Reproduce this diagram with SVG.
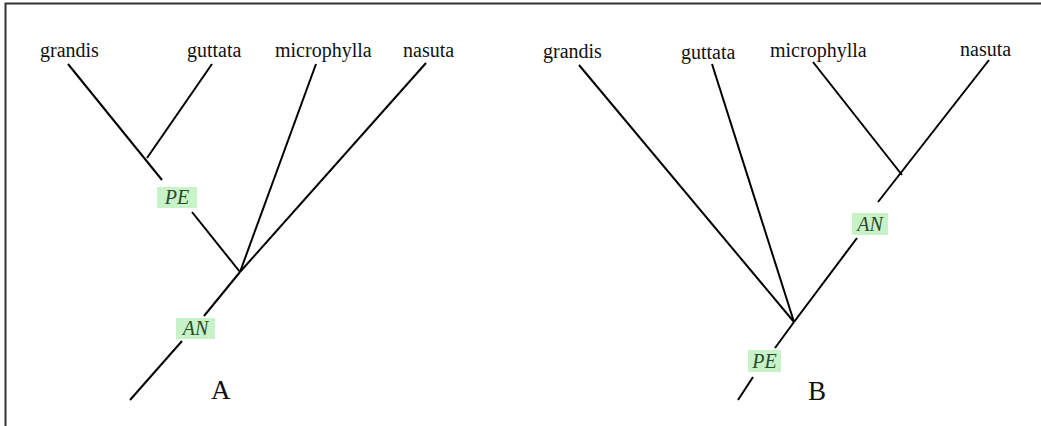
<svg xmlns="http://www.w3.org/2000/svg" width="1041" height="426" viewBox="0 0 1041 426">
<style>
.bg{fill:#ffffff}
.frame{stroke:#333;stroke-width:2;fill:none}
.edge{stroke:#000;stroke-width:2;fill:none;stroke-linecap:butt}
.taxon{font-family:"Liberation Serif",serif;font-size:20px;fill:#111}
.panel{font-family:"Liberation Serif",serif;font-size:27px;fill:#111}
.tagbox{fill:#c8f2c8}
.tag{font-family:"Liberation Serif",serif;font-style:italic;font-size:20px;fill:#2b4a2b;text-anchor:middle}
</style>
<rect class="bg" x="0" y="0" width="1041" height="426"/>
<path class="frame" d="M5.5,426 V3.5 H1041"/>
<g id="connectors">
  <!-- Tree A -->
  <line class="edge" x1="68" y1="64" x2="162" y2="180"/>
  <line class="edge" x1="212" y1="64" x2="147" y2="158"/>
  <line class="edge" x1="192" y1="212" x2="240" y2="272"/>
  <line class="edge" x1="316" y1="64" x2="240" y2="272"/>
  <line class="edge" x1="426" y1="63" x2="240" y2="272"/>
  <line class="edge" x1="240" y1="272" x2="204" y2="316"/>
  <line class="edge" x1="182" y1="341" x2="130" y2="400"/>
  <!-- Tree B -->
  <line class="edge" x1="579" y1="65" x2="794" y2="322"/>
  <line class="edge" x1="712" y1="64" x2="794" y2="322"/>
  <line class="edge" x1="813" y1="62" x2="902" y2="175"/>
  <line class="edge" x1="989" y1="60" x2="878" y2="202"/>
  <line class="edge" x1="857" y1="238" x2="794" y2="322"/>
  <line class="edge" x1="794" y1="322" x2="775" y2="348"/>
  <line class="edge" x1="753" y1="377" x2="738" y2="400"/>
</g>
<g id="treeA">
  <g id="A-grandis"><text class="taxon" x="40" y="57">grandis</text></g>
  <g id="A-guttata"><text class="taxon" x="187" y="57">guttata</text></g>
  <g id="A-microphylla"><text class="taxon" x="275" y="57">microphylla</text></g>
  <g id="A-nasuta"><text class="taxon" x="403" y="57">nasuta</text></g>
  <g id="A-PE"><rect class="tagbox" x="157" y="187" width="40" height="21"/><text class="tag" x="177" y="204">PE</text></g>
  <g id="A-AN"><rect class="tagbox" x="176" y="318" width="39" height="21"/><text class="tag" x="195.5" y="335">AN</text></g>
  <g id="A-label"><text class="panel" x="211" y="399">A</text></g>
</g>
<g id="treeB">
  <g id="B-grandis"><text class="taxon" x="543" y="58">grandis</text></g>
  <g id="B-guttata"><text class="taxon" x="681" y="59">guttata</text></g>
  <g id="B-microphylla"><text class="taxon" x="770" y="57">microphylla</text></g>
  <g id="B-nasuta"><text class="taxon" x="960" y="56">nasuta</text></g>
  <g id="B-AN"><rect class="tagbox" x="852" y="213" width="36" height="22"/><text class="tag" x="870" y="231">AN</text></g>
  <g id="B-PE"><rect class="tagbox" x="748" y="350" width="33" height="22"/><text class="tag" x="764.5" y="368">PE</text></g>
  <g id="B-label"><text class="panel" x="808" y="400">B</text></g>
</g>
</svg>
